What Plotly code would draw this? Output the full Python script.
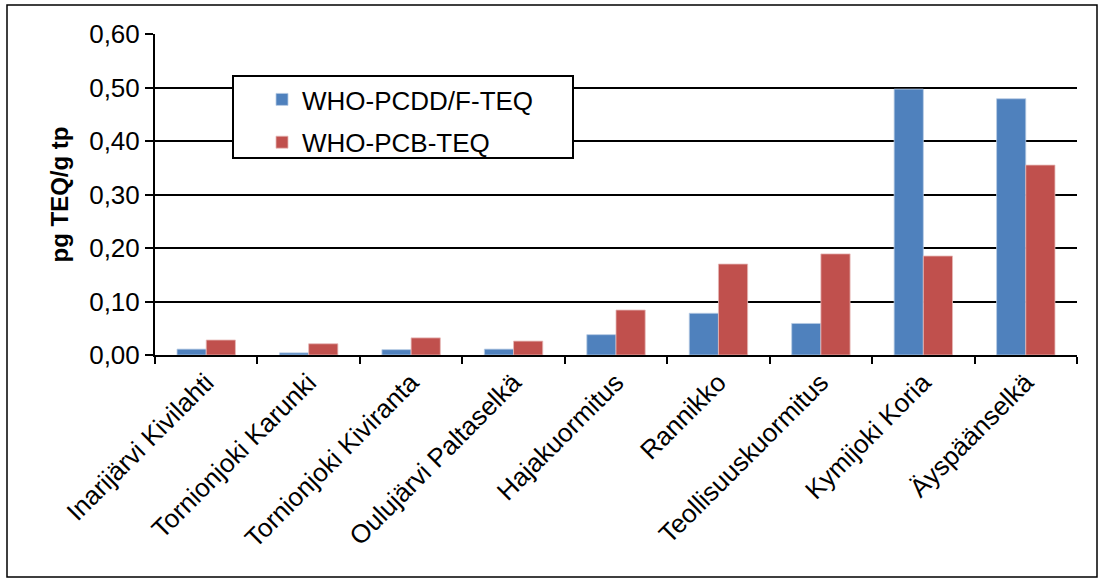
import plotly.graph_objects as go

categories = ["Inarijärvi Kivilahti", "Tornionjoki Karunki", "Tornionjoki Kiviranta",
              "Oulujärvi Paltaselkä", "Hajakuormitus", "Rannikko", "Teollisuuskuormitus",
              "Kymijoki Koria", "Äyspäänselkä"]
pcdd = [0.011, 0.004, 0.010, 0.011, 0.038, 0.078, 0.059, 0.497, 0.479]
pcb = [0.028, 0.021, 0.032, 0.026, 0.084, 0.170, 0.189, 0.185, 0.355]
yticks = [0, 0.1, 0.2, 0.3, 0.4, 0.5, 0.6]
yticklabels = ["0,00", "0,10", "0,20", "0,30", "0,40", "0,50", "0,60"]

FONT = "Liberation Sans, Arial, sans-serif"

fig = go.Figure()
fig.add_trace(go.Bar(x=categories, y=pcdd, name="WHO-PCDD/F-TEQ", legendgroup="a",
                     marker=dict(color="#4F81BD", line=dict(color="#B9CDE5", width=0.8))))
fig.add_trace(go.Bar(x=categories, y=pcb, name="WHO-PCB-TEQ", legendgroup="b",
                     marker=dict(color="#C0504D", line=dict(color="#E6B9B8", width=0.8))))

L, R, T, B = 155, 28, 34, 226
W, H = 1105, 581
pw = W - L - R
ph = H - T - B

def px2x(p):
    return (p - L) / pw

def px2y(p):
    return (H - B - p) / ph

fig.update_layout(
    width=W, height=H,
    margin=dict(l=L, r=R, t=T, b=B, pad=0),
    paper_bgcolor="white", plot_bgcolor="white",
    barmode="group", bargap=0.43, bargroupgap=0,
    font=dict(family=FONT, color="black", size=25),
    showlegend=True,
    legend=dict(x=px2x(262), y=px2y(76), xanchor="left", yanchor="top",
                bgcolor="rgba(0,0,0,0)", borderwidth=0,
                font=dict(size=26, family=FONT), traceorder="grouped",
                tracegroupgap=6, itemwidth=30),
    xaxis=dict(type="category", showline=True, linecolor="black", linewidth=2,
               ticks="outside", tickson="boundaries", ticklen=7, tickwidth=2, tickcolor="black",
               tickangle=-45, tickfont=dict(size=26, family=FONT), showgrid=False,
               range=[-0.5, 8.5]),
    yaxis=dict(range=[0, 0.6], tickvals=yticks, ticktext=yticklabels, showgrid=True,
               gridcolor="black", gridwidth=2, showline=True, linecolor="black", linewidth=2,
               ticks="outside", ticklen=8, tickwidth=2, tickcolor="black",
               tickfont=dict(size=26, family=FONT), zeroline=False,
               title=dict(text="<b>pg TEQ/g tp</b>", font=dict(size=24, family=FONT), standoff=14)),
    shapes=[
        dict(type="rect", xref="paper", yref="paper",
             x0=px2x(7), x1=px2x(1097), y0=px2y(577), y1=px2y(5),
             line=dict(color="black", width=1.5), fillcolor="rgba(0,0,0,0)", layer="below"),
        dict(type="rect", xref="paper", yref="paper",
             x0=px2x(233), x1=px2x(573), y0=px2y(158), y1=px2y(76),
             line=dict(color="black", width=2), fillcolor="white", layer="above"),
    ],
)

fig.write_html("out.html", config={"displayModeBar": False},
               post_script="document.body.style.margin='0';")
